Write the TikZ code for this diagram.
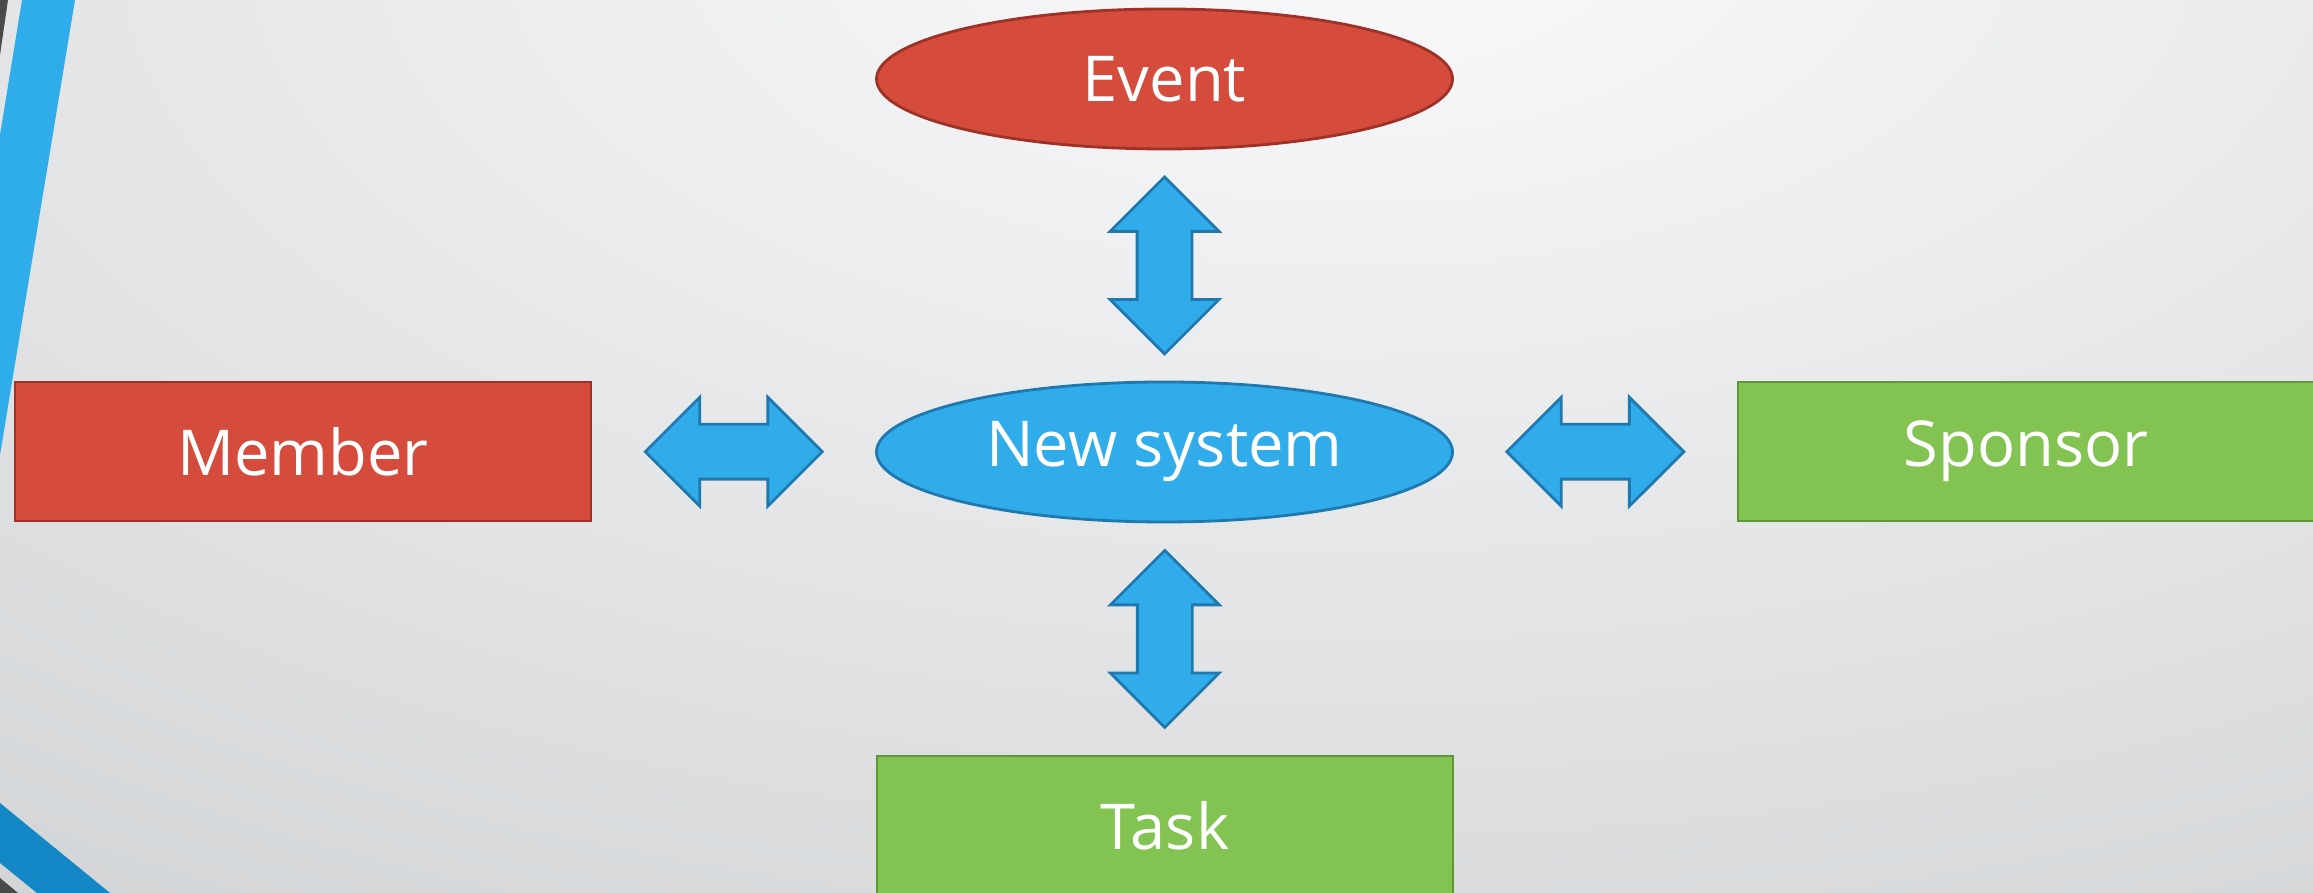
\documentclass[tikz,border=0pt]{standalone}
\usepackage{fontspec}
\setmainfont{Open Sans}
\usetikzlibrary{shapes.geometric,shapes.arrows,calc}
\definecolor{boxred}{HTML}{D54B3C}
\definecolor{boxredline}{HTML}{9E3229}
\definecolor{boxblue}{HTML}{31ACEA}
\definecolor{boxblueline}{HTML}{1F78AE}
\definecolor{boxgreen}{HTML}{82C351}
\definecolor{boxgreenline}{HTML}{5E9836}
\definecolor{bglight}{HTML}{FAFAFC}
\definecolor{bgdark}{HTML}{BDC1C3}
\definecolor{stripeblue}{HTML}{2FADEA}
\definecolor{stripedark}{HTML}{1487C7}
\definecolor{stripegray}{HTML}{4A4A4A}
\begin{document}
\begin{tikzpicture}[
    box/.style={draw, rectangle, line width=0.8pt, minimum width=5.76cm, minimum height=1.39cm, inner sep=0pt, text=white, font=\fontsize{18}{22}\selectfont},
    oval/.style={draw, ellipse, line width=0.8pt, minimum width=5.76cm, minimum height=1.40cm, inner sep=0pt, text=white, font=\fontsize{18}{22}\selectfont},
    arr/.style={draw=boxblueline, fill=boxblue, double arrow, line width=0.8pt, minimum height=1.77cm, minimum width=1.06cm, double arrow head extend=0.27cm, double arrow tip angle=90, inner sep=0.26cm}]

    % background
    \clip (0,0) rectangle (23.13,8.93);
    \useasboundingbox (0,0) rectangle (23.13,8.93);
    \shade[inner color=bglight, outer color=bgdark] (13.5,9.6) ellipse (36cm and 18cm);
    \fill[stripegray] (0,8.93) -- (0.08,8.93) -- (0,8.38) -- cycle;
    \fill[stripeblue] (0.22,8.93) -- (0.75,8.93) -- (0,4.38) -- (0,7.58) -- cycle;
    \fill[stripedark] (0,0.90) -- (1.10,0) -- (0.37,0) -- (0,0.30) -- cycle;
    \fill[stripegray] (0,0.15) -- (0.18,0) -- (0,0) -- cycle;

    \node[oval, fill=boxred, draw=boxredline] (event) at (11.645,8.14) {Event};
    \node[oval, fill=boxblue, draw=boxblueline] (sys) at (11.645,4.41) {New system};
    \node[box, fill=boxred, draw=boxredline] (member) at (3.03,4.415) {Member};
    \node[box, fill=boxgreen, draw=boxgreenline] (sponsor) at (20.26,4.415) {Sponsor};
    \node[box, fill=boxgreen, draw=boxgreenline] (task) at (11.65,0.675) {Task};

    \node[arr, shape border rotate=90] (up) at ($(event.south)!0.5!(sys.north)$) {};
    \node[arr, shape border rotate=90] (down) at ($(sys.south)!0.5!(task.north)$) {};
    \node[arr] (left) at ($(member.east)!0.5!(sys.west)$) {};
    \node[arr] (right) at ($(sys.east)!0.5!(sponsor.west)$) {};
\end{tikzpicture}
\end{document}
